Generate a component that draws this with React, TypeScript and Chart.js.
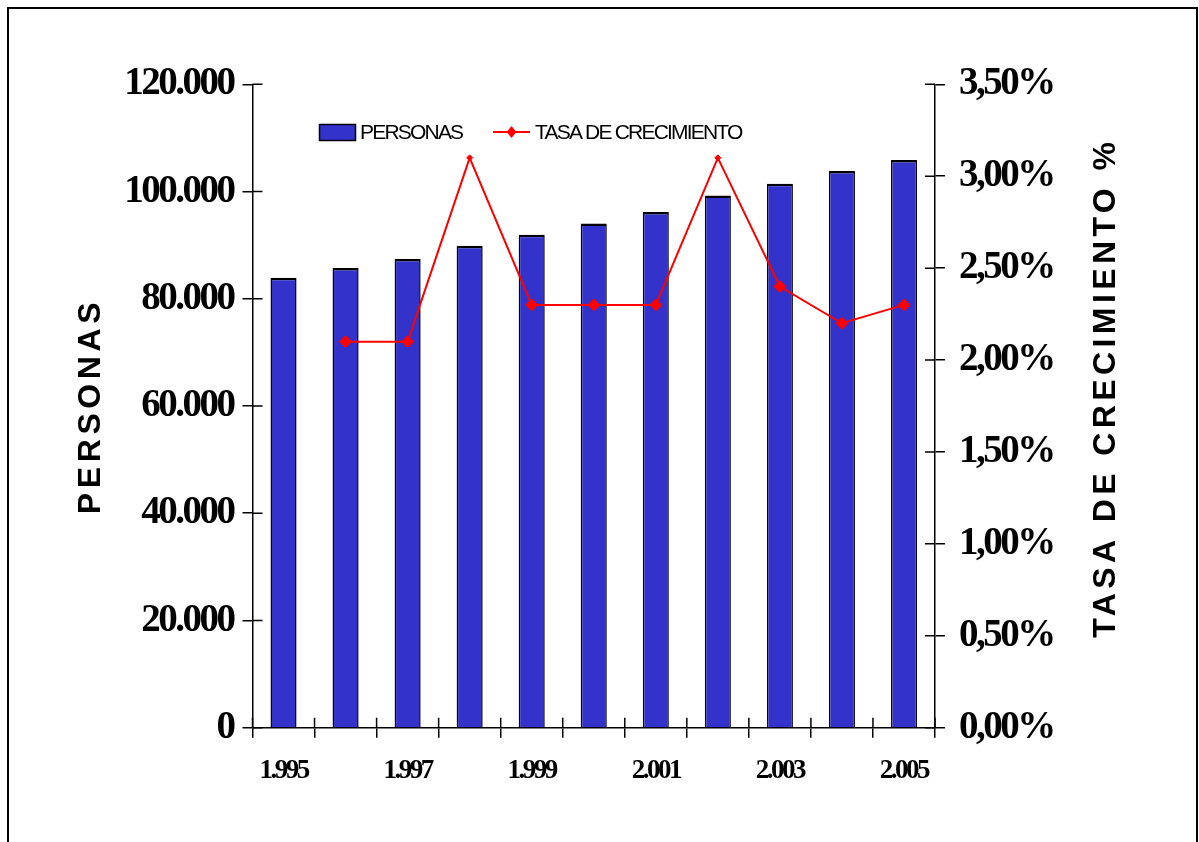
import React, { useEffect, useRef } from 'react';
import { Chart, registerables } from 'chart.js';

Chart.register(...registerables);

// ---- data ----
const years = ['1.995', '1.996', '1.997', '1.998', '1.999', '2.000', '2.001', '2.002', '2.003', '2.004', '2.005'];
const personas = [83900, 85760, 87430, 89900, 91950, 94050, 96170, 99260, 101430, 103850, 105890];
const tasa: (number | null)[] = [null, 2.1, 2.1, 3.1, 2.3, 2.3, 2.3, 3.1, 2.4, 2.2, 2.3];

const leftTitle = 'PERSONAS';
const rightTitle = 'TASA DE CRECIMIENTO %';
const barLabel = 'PERSONAS';
const lineLabel = 'TASA DE CRECIMIENTO';

const BAR_COLOR = '#3333CC';
const LINE_COLOR = '#FF0000';
const SERIF = "'Liberation Serif', 'Times New Roman', serif";
const SANS = "'Liberation Sans', Arial, sans-serif";

const fmtThousands = (v: number) => String(Math.round(v)).replace(/\B(?=(\d{3})+(?!\d))/g, '.');
const fmtPct = (v: number) => v.toFixed(2).replace('.', ',') + '%';

const maxTasa = Math.max(...(tasa.filter((v) => v !== null) as number[]));

// layout targets (page coordinates)
const AREA_LEFT = 252.5;
const AREA_RIGHT = 935;
const AREA_TOP = 84.3;
const AREA_BOTTOM = 727.7;
const W = 1199;
const H = 842;

function drawDiamond(ctx: CanvasRenderingContext2D, x: number, y: number, r: number) {
  ctx.beginPath();
  ctx.moveTo(x, y - r);
  ctx.lineTo(x + r * 0.8, y);
  ctx.lineTo(x, y + r);
  ctx.lineTo(x - r * 0.8, y);
  ctx.closePath();
  ctx.fill();
}

const decorPlugin = {
  id: 'decor',
  beforeDraw(chart: any) {
    // spacing for axis titles (drawn with the grid layer)
    (chart.ctx as any).letterSpacing = '4.6px';
  },
  beforeDatasetsDraw(chart: any) {
    // tick labels are drawn after datasets (ticks.z = 1)
    (chart.ctx as any).letterSpacing = '-2.5px';
  },
  afterDraw(chart: any) {
    const ctx: CanvasRenderingContext2D = chart.ctx;
    const { x, y, y1 } = chart.scales;
    ctx.save();
    (ctx as any).letterSpacing = '0px';
    // inward tick marks (ticks cross the axes)
    ctx.strokeStyle = '#000';
    ctx.lineWidth = 1.5;
    ctx.beginPath();
    y.ticks.forEach((t: any) => {
      const py = y.getPixelForValue(t.value);
      ctx.moveTo(y.right, py);
      ctx.lineTo(y.right + 10, py);
    });
    y1.ticks.forEach((t: any) => {
      const py = y1.getPixelForValue(t.value);
      ctx.moveTo(y1.left, py);
      ctx.lineTo(y1.left - 10, py);
    });
    for (let i = 0; i <= years.length; i++) {
      const px = x.getPixelForValue(i - 0.5);
      ctx.moveTo(px, x.top);
      ctx.lineTo(px, x.top - 10);
    }
    ctx.stroke();

    // legend
    const ly = 132;
    ctx.fillStyle = BAR_COLOR;
    ctx.fillRect(319.5, 124.5, 36, 16);
    ctx.strokeStyle = '#000';
    ctx.lineWidth = 1.5;
    ctx.strokeRect(319.5, 124.5, 36, 16);
    ctx.fillStyle = '#000';
    ctx.font = `21px ${SANS}`;
    ctx.textBaseline = 'middle';
    ctx.textAlign = 'left';
    (ctx as any).letterSpacing = '-1.8px';
    ctx.fillText(barLabel, 360, ly + 1);
    ctx.strokeStyle = LINE_COLOR;
    ctx.lineWidth = 2;
    ctx.beginPath();
    ctx.moveTo(493, ly);
    ctx.lineTo(530, ly);
    ctx.stroke();
    ctx.fillStyle = LINE_COLOR;
    drawDiamond(ctx, 511.5, ly, 6);
    ctx.fillStyle = '#000';
    ctx.fillText(lineLabel, 535, ly + 1);

    // right axis title (reads bottom to top)
    ctx.translate(1106, 390);
    ctx.rotate(-Math.PI / 2);
    ctx.font = `bold 32px ${SANS}`;
    ctx.textAlign = 'center';
    ctx.textBaseline = 'middle';
    (ctx as any).letterSpacing = '4.4px';
    ctx.fillStyle = '#000';
    ctx.fillText(rightTitle, 2.2, 0);
    ctx.restore();
    (ctx as any).letterSpacing = '0px';
  },
};

export default function App() {
  const canvasRef = useRef<HTMLCanvasElement | null>(null);

  useEffect(() => {
    if (!canvasRef.current) return;
    const tickGrid = {
      drawOnChartArea: false,
      color: '#000',
      lineWidth: 1.5,
      tickLength: 10,
    };
    const chart = new Chart(canvasRef.current, {
      type: 'bar',
      data: {
        labels: years,
        datasets: [
          {
            type: 'line',
            label: lineLabel,
            data: tasa,
            yAxisID: 'y1',
            order: 0,
            borderColor: LINE_COLOR,
            backgroundColor: LINE_COLOR,
            borderWidth: 2,
            tension: 0,
            pointStyle: 'rectRot',
            pointRadius: (c: any) => (c.raw === maxTasa ? 3 : 6),
            pointBackgroundColor: LINE_COLOR,
            pointBorderColor: LINE_COLOR,
            pointBorderWidth: 1,
          } as any,
          {
            type: 'bar',
            label: barLabel,
            data: personas,
            yAxisID: 'y',
            order: 1,
            backgroundColor: BAR_COLOR,
            borderColor: '#000',
            borderWidth: { top: 2.5, left: 1.5, right: 1.5, bottom: 0 },
            borderSkipped: false,
            categoryPercentage: 1,
            barPercentage: 0.42,
          } as any,
        ],
      },
      options: {
        responsive: true,
        maintainAspectRatio: false,
        animation: false,
        layout: { padding: { top: AREA_TOP, left: 0, right: 0, bottom: 0 } },
        plugins: {
          legend: { display: false },
          tooltip: { enabled: false },
          title: { display: false },
        },
        scales: {
          x: {
            type: 'category',
            offset: true,
            grid: { ...tickGrid, offset: true },
            border: { color: '#000', width: 1.5 },
            ticks: {
              autoSkip: false,
              maxRotation: 0,
              minRotation: 0,
              padding: 17,
              color: '#000',
              z: 1,
              font: { family: SERIF, weight: 'bold', size: 27 },
              callback: (_v: any, i: number) => (i % 2 === 0 ? years[i] : ''),
            },
            afterFit: (s: any) => {
              s.height = H - AREA_BOTTOM;
            },
          },
          y: {
            type: 'linear',
            position: 'left',
            min: 0,
            max: 120000,
            grid: tickGrid,
            border: { color: '#000', width: 1.5 },
            ticks: {
              stepSize: 20000,
              padding: 9,
              color: '#000',
              z: 1,
              font: { family: SERIF, weight: 'bold', size: 39 },
              callback: (v: any) => fmtThousands(Number(v)),
            },
            title: {
              display: true,
              text: leftTitle,
              color: '#000',
              font: { family: SANS, weight: 'bold', size: 32 },
              padding: { top: 72, bottom: 0 },
            },
            afterFit: (s: any) => {
              s.width = AREA_LEFT;
            },
          },
          y1: {
            type: 'linear',
            position: 'right',
            min: 0,
            max: 3.5,
            grid: tickGrid,
            border: { color: '#000', width: 1.5 },
            ticks: {
              stepSize: 0.5,
              padding: 14,
              color: '#000',
              z: 1,
              font: { family: SERIF, weight: 'bold', size: 39 },
              callback: (v: any) => fmtPct(Number(v)),
            },
            afterFit: (s: any) => {
              s.width = W - AREA_RIGHT;
            },
          },
        },
      } as any,
      plugins: [decorPlugin as any],
    });
    return () => {
      chart.destroy();
    };
  }, []);

  return (
    <>
      <div
        style={{
          position: 'fixed',
          left: 7,
          top: 7,
          width: 1191,
          height: 900,
          boxSizing: 'border-box',
          border: '2px solid #000',
          background: '#fff',
        }}
      />
      <div style={{ position: 'fixed', left: 0, top: 0, width: W, height: H }}>
        <canvas ref={canvasRef} />
      </div>
    </>
  );
}
